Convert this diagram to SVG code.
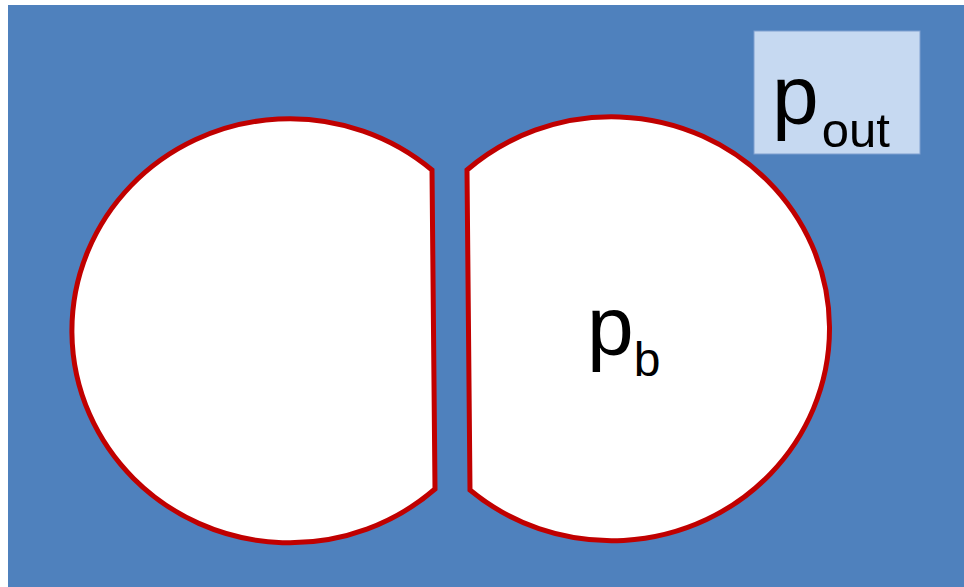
<svg xmlns="http://www.w3.org/2000/svg" width="964" height="587" viewBox="0 0 964 587">
<style>
.cell{fill:#fff;stroke:#c00000;stroke-width:5;stroke-linejoin:miter}
.t{font-family:"Liberation Sans",Arial,sans-serif;fill:#000}
</style>
<rect x="0" y="0" width="964" height="587" fill="#fff"/>
<rect id="medium" x="8" y="5" width="956" height="582" fill="#4f81bd"/>
<g id="left-cell">
<path class="cell" d="M432,170 A218,212 0 1 0 435,489 Z"/>
</g>
<g id="right-cell">
<path class="cell" d="M467,170 A218,212 0 1 1 470,490 Z"/>
<text class="t" x="587" y="355" font-size="84">p<tspan font-size="48" dy="21">b</tspan></text>
</g>
<g id="pout">
<rect x="754" y="31" width="166" height="123" fill="#c6d9f1" stroke="#7f9fcf" stroke-width="1"/>
<text class="t" x="772" y="124" font-size="84">p<tspan font-size="49" dx="3" dy="23">out</tspan></text>
</g>
</svg>
